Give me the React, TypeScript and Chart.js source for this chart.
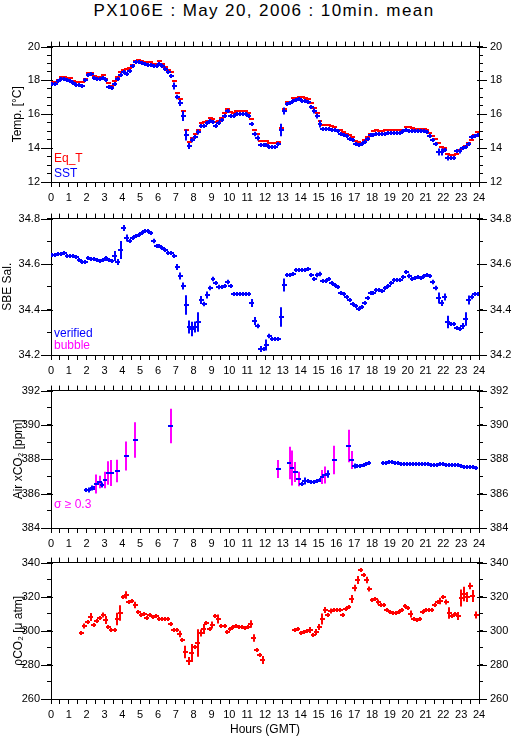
import React, { useEffect, useRef } from "react";
import { Chart, registerables } from "chart.js";
Chart.register(...registerables);

const FONT = "'Liberation Sans', Arial, Helvetica, sans-serif";
const RED = "#ff0000";
const BLUE = "#0000ff";
const MAGENTA = "#ff00ff";

// ---- x axis (hours GMT) ----
const HOUR_TICK_LABELS = ["0","1","2","3","4","5","6","7","8","9","10","11","12","13","14","15","16","17","18","19","20","21","22","23","24"];
const X_TICKS = Array.from({ length: 49 }, (_, i) => i / 2); // half-hour tick marks
const SLOT_HOURS = Array.from({ length: 144 }, (_, k) => (k + 0.5) / 6); // 10-min slot centres
const SLOT_HALF = 1 / 12;

// ---- Panel 1 : temperature ----
const TEMP_TICKS = [12,12.5,13,13.5,14,14.5,15,15.5,16,16.5,17,17.5,18,18.5,19,19.5,20];
const TEMP_LABEL_VALUES = [12,14,16,18,20];
const TEMP_LABELS = ["12","14","16","18","20"];
const EQT = [
  17.88,17.88,18.0,18.23,18.23,18.12,
  18.12,17.96,17.92,17.92,17.9,18.06,
  18.45,18.45,18.25,18.22,18.22,18.3,
  18.1,17.86,17.7,17.94,18.19,18.48,
  18.6,18.68,18.75,18.9,19.17,19.2,
  19.12,19.1,19.1,19.08,18.97,18.95,
  19.15,18.95,18.8,18.6,18.48,17.96,
  17.24,16.9,16.2,15.07,14.37,14.6,
  14.83,15.07,15.5,15.55,15.63,15.77,
  15.73,15.57,15.63,15.77,16.08,16.31,
  16.12,16.08,16.17,16.17,16.17,16.17,
  16.1,15.73,15.07,14.83,14.4,14.4,
  14.4,14.3,14.3,14.28,14.35,15.2,
  16.31,16.7,16.74,16.95,16.99,17.05,
  17.0,16.95,16.93,16.66,16.4,16.1,
  15.6,15.34,15.34,15.34,15.32,15.25,
  15.1,15.08,14.95,14.85,14.78,14.66,
  14.45,14.37,14.33,14.5,14.66,14.85,
  14.99,15.07,15.02,14.99,15.05,15.07,
  15.09,15.09,15.09,15.09,15.03,15.24,
  15.24,15.18,15.13,15.13,15.13,15.13,
  15.1,14.9,14.7,14.52,14.28,14.06,
  14.02,13.63,13.6,13.6,13.63,13.9,
  14.0,14.14,14.33,14.5,14.8,14.95,
];
const SST = [
  17.77,17.78,17.95,18.06,18.06,18.0,
  17.95,17.86,17.75,17.75,17.69,18.0,
  18.33,18.37,18.15,18.06,18.06,18.13,
  18.0,17.63,17.57,17.77,18.06,18.31,
  18.48,18.39,18.58,18.83,19.09,19.09,
  19.03,18.95,18.93,18.93,18.85,18.83,
  18.95,18.87,18.7,18.48,18.25,17.67,
  17.03,16.64,15.92,14.76,14.14,14.47,
  14.68,14.95,15.3,15.3,15.5,15.6,
  15.55,15.3,15.5,15.69,15.88,16.17,
  15.92,15.92,16.02,16.02,16.02,16.02,
  15.88,15.44,14.83,14.6,14.21,14.21,
  14.21,14.08,14.08,14.08,14.27,15.05,
  16.21,16.6,16.66,16.78,16.85,16.89,
  16.78,16.78,16.74,16.45,16.2,15.92,
  15.44,15.15,15.13,15.13,15.1,15.05,
  15.0,14.85,14.76,14.72,14.56,14.47,
  14.23,14.17,14.22,14.37,14.56,14.76,
  14.76,14.82,14.84,14.85,14.85,14.9,
  14.9,14.9,14.9,14.9,14.99,15.05,
  15.03,15.01,14.99,14.99,14.99,14.99,
  14.95,14.72,14.5,14.27,13.79,13.79,
  13.88,13.4,13.4,13.4,13.83,13.83,
  13.98,14.08,14.27,14.66,14.72,14.75,
];
const SST_ERR = [
  .04,.04,.04,.04,.04,.04,
  .04,.04,.04,.04,.04,.08,
  .06,.04,.04,.04,.04,.04,
  .04,.06,.04,.06,.06,.06,
  .06,.06,.06,.06,.06,.04,
  .04,.04,.04,.04,.04,.04,
  .04,.04,.06,.06,.08,.2,
  .14,.17,.3,.32,.17,.14,
  .08,.15,.06,.06,.06,.06,
  .04,.04,.06,.06,.06,.08,
  .04,.04,.04,.04,.04,.04,
  .06,.06,.13,.15,.06,.04,
  .04,.04,.04,.04,.06,.37,
  .2,.08,.04,.04,.04,.04,
  .04,.04,.04,.08,.15,.15,
  .2,.06,.04,.04,.04,.04,
  .04,.04,.06,.04,.06,.06,
  .06,.06,.06,.06,.06,.06,
  .04,.04,.04,.04,.04,.04,
  .04,.04,.04,.04,.06,.06,
  .04,.04,.04,.04,.04,.04,
  .06,.08,.08,.1,.2,.2,
  .1,.15,.06,.06,.1,.15,
  .1,.06,.06,.08,.08,.06,
];

// ---- Panel 2 : salinity ----
const SAL_TICKS = [34.2,34.3,34.4,34.5,34.6,34.7,34.8];
const SAL_LABEL_VALUES = [34.2,34.4,34.6,34.8];
const SAL_LABELS = ["34.2","34.4","34.6","34.8"];
const SAL = [
  34.640,34.640,34.645,34.645,34.648,34.637,
  34.636,34.634,34.630,34.620,34.610,34.610,
  34.627,34.622,34.622,34.616,34.612,34.620,
  34.627,34.620,34.612,34.634,34.610,34.660,
  34.760,34.716,34.703,34.713,34.725,34.728,
  34.738,34.747,34.747,34.738,34.700,34.680,
  34.680,34.670,34.663,34.648,34.648,34.634,
  34.587,34.547,34.504,34.420,34.323,34.316,
  34.324,34.345,34.440,34.424,34.465,34.496,
  34.533,34.518,34.500,34.498,34.504,34.522,
  34.504,34.467,34.467,34.467,34.470,34.470,
  34.467,34.428,34.350,34.326,34.226,34.225,
  34.243,34.282,34.272,34.272,34.272,34.366,
  34.507,34.550,34.554,34.558,34.573,34.573,
  34.572,34.576,34.579,34.550,34.535,34.552,
  34.557,34.525,34.526,34.535,34.515,34.508,
  34.500,34.472,34.467,34.457,34.441,34.424,
  34.417,34.402,34.410,34.428,34.450,34.472,
  34.472,34.486,34.488,34.482,34.496,34.504,
  34.518,34.530,34.530,34.530,34.544,34.564,
  34.547,34.535,34.540,34.543,34.540,34.547,
  34.550,34.547,34.522,34.494,34.450,34.428,
  34.457,34.345,34.337,34.337,34.319,34.313,
  34.327,34.359,34.441,34.453,34.467,34.470,
];
const SAL_ERR = [
  .004,.004,.004,.004,.004,.004,
  .004,.004,.004,.004,.004,.004,
  .006,.004,.004,.004,.004,.004,
  .006,.004,.008,.022,.013,.04,
  .013,.015,.004,.004,.004,.004,
  .004,.004,.004,.004,.01,.004,
  .004,.004,.004,.004,.004,.008,
  .013,.015,.015,.043,.029,.032,
  .024,.043,.018,.01,.015,.01,
  .01,.006,.01,.006,.006,.01,
  .006,.004,.004,.004,.004,.004,
  .004,.018,.018,.01,.013,.008,
  .024,.01,.006,.006,.006,.043,
  .029,.006,.006,.004,.004,.004,
  .004,.004,.004,.008,.008,.01,
  .01,.006,.004,.004,.006,.006,
  .004,.004,.004,.008,.004,.008,
  .008,.004,.006,.008,.008,.008,
  .004,.004,.004,.004,.004,.004,
  .004,.004,.004,.004,.008,.008,
  .01,.004,.004,.004,.004,.004,
  .004,.004,.01,.01,.024,.013,
  .015,.027,.006,.006,.008,.006,
  .013,.03,.02,.01,.006,.006,
];

// ---- Panel 3 : atmospheric xCO2 ----
const XCO2_TICKS = [384,385,386,387,388,389,390,391,392];
const XCO2_LABEL_VALUES = [384,386,388,390,392];
const XCO2_LABELS = ["384","386","388","390","392"];
const XCO2_SIGMA_LIMIT = 0.3;
const XCO2_HOURS = [
  1.98,2.13,2.30,2.41,2.54,2.73,2.88,3.03,3.20,3.38,3.72,4.22,4.73,6.71,
  12.73,13.38,13.53,13.70,13.89,14.07,14.23,14.41,14.60,14.75,14.92,15.07,15.21,15.36,15.53,15.87,
  16.69,16.86,17.03,17.18,17.35,17.53,17.68,17.83,
  18.62,18.79,18.95,19.12,19.29,19.46,19.63,19.79,19.96,20.13,20.30,20.47,20.64,20.80,20.97,21.14,
  21.31,21.48,21.64,21.81,21.98,22.15,22.32,22.49,22.65,22.82,22.99,23.16,23.33,23.50,23.66,23.83,
];
const XCO2 = [
  386.24,386.24,386.34,386.34,386.55,386.67,386.49,386.79,387.19,387.19,387.31,388.19,389.12,389.94,
  387.43,387.80,387.51,387.27,386.84,386.55,386.75,386.71,386.67,386.69,386.75,386.79,386.98,387.08,387.12,387.95,
  388.77,387.95,387.62,387.60,387.62,387.66,387.70,387.76,
  387.76,387.80,387.82,387.82,387.80,387.76,387.74,387.72,387.72,387.74,387.72,387.72,387.72,387.74,387.70,387.70,
  387.68,387.68,387.68,387.70,387.70,387.68,387.66,387.64,387.64,387.64,387.60,387.56,387.56,387.54,387.53,387.51,
];
const XCO2_ERR = [
  0.12,0.15,0.15,0.12,0.55,0.36,0.15,0.48,0.68,0.75,0.66,0.85,1.03,1.0,
  0.53,0.95,1.02,0.58,0.42,0.1,0.2,0.1,0.08,0.06,0.06,0.08,0.41,0.49,0.22,0.83,
  0.95,0.52,0.15,0.1,0.05,0.05,0.05,0.1,
  0.04,0.04,0.04,0.04,0.04,0.04,0.04,0.04,0.04,0.04,0.04,0.04,0.04,0.04,0.04,0.04,
  0.04,0.04,0.04,0.04,0.04,0.04,0.04,0.04,0.04,0.04,0.04,0.04,0.04,0.04,0.04,0.04,
];

// ---- Panel 4 : pCO2 ----
const PCO2_TICKS = [260,270,280,290,300,310,320,330,340];
const PCO2_LABEL_VALUES = [260,280,300,320,340];
const PCO2_LABELS = ["260","280","300","320","340"];
const PCO2_HOURS = [
  1.70,1.87,2.06,2.22,2.39,2.56,2.73,2.92,3.07,3.21,3.38,3.57,3.72,3.87,
  4.04,4.22,4.37,4.54,4.73,4.90,5.05,5.23,5.38,5.55,5.72,5.89,
  6.06,6.22,6.39,6.54,6.71,6.88,7.05,7.21,7.36,7.53,7.72,7.89,
  8.06,8.22,8.39,8.56,8.71,8.90,9.05,9.21,9.38,9.55,9.74,9.89,
  10.06,10.22,10.39,10.54,10.71,10.88,11.05,11.20,11.36,11.53,11.70,11.87,
  13.66,13.85,14.02,14.19,14.36,14.54,14.71,14.88,15.05,15.21,15.38,15.53,15.70,15.87,
  16.04,16.21,16.36,16.52,16.69,16.86,17.03,17.20,17.36,17.53,17.70,17.85,
  18.02,18.17,18.34,18.50,18.67,18.84,19.03,19.18,19.35,19.51,19.68,19.85,
  20.00,20.17,20.34,20.50,20.67,20.84,21.01,21.18,21.35,21.51,21.68,21.83,
  22.00,22.17,22.34,22.50,22.67,22.84,22.99,23.16,23.33,23.50,23.66,23.85,
];
const PCO2 = [
  298.6,302.8,305.1,308.2,303.2,305.5,307.6,309.2,306.3,302.4,300.3,300.3,307.0,310.5,
  320.1,321.1,316.7,317.3,315.3,310.9,309.5,310.1,307.6,309.0,308.2,308.6,
  306.8,306.8,307.2,306.7,303.8,300.3,300.3,298.4,294.5,287.4,282.0,287.0,
  290.7,292.8,298.6,300.9,304.3,300.9,303.2,308.6,307.0,302.8,302.8,299.3,
  300.9,302.4,302.8,302.4,302.2,301.6,302.4,303.8,295.7,288.9,285.8,282.6,
  300.7,301.3,298.6,299.3,299.7,300.3,297.4,299.3,302.2,307.2,312.0,309.3,311.5,312.4,
  312.0,312.0,309.5,313.0,314.0,318.6,325.2,329.8,335.6,332.7,329.8,324.4,
  318.2,318.8,316.9,314.9,314.9,312.4,310.9,310.5,310.5,311.1,312.4,314.4,
  313.4,310.1,307.2,306.3,307.0,311.3,312.4,312.0,312.4,315.3,316.9,317.3,
  320.1,316.7,310.5,308.4,309.9,308.6,319.2,321.7,320.1,326.3,320.7,309.0,
];
const PCO2_ERR = [
  1,1.5,1.2,2.4,1,1,1.2,1.5,2.4,1,0.8,0.8,3.6,4.6,
  1.2,2.2,0.8,1,1.9,1,0.8,1,1,1,1,0.8,
  1,0.8,0.8,0.8,1.2,0.8,0.8,1.9,1.2,3.7,2.3,5.3,
  1,8.1,2.1,2.9,1.2,1,2.1,1,2.6,1.2,1.2,0.8,
  0.8,0.8,0.8,0.8,0.8,0.8,1,2.2,2.2,1.2,1,2.3,
  1,1,0.8,0.8,1,1.7,0.8,1.7,1.7,3.2,1.7,0.8,1.4,1,
  0.8,0.8,0.8,1,0.8,2.4,1.9,2.3,0.8,0.8,1.9,1.5,
  1.2,1.2,1.5,0.8,0.8,1,0.8,0.8,0.8,0.8,0.8,0.8,
  1.2,2,0.8,0.8,1,0.8,0.8,0.8,0.8,1.2,1,1.9,
  1.2,1.5,3.3,0.8,1,2.3,5,4.2,2.9,1.9,3.5,2,
];

// ---------- plugins ----------
const errorBars = {
  id: "errorBars",
  afterDatasetsDraw(chart: any) {
    const { ctx, chartArea: a, scales } = chart;
    const xs = scales.x, ys = scales.y;
    ctx.save();
    ctx.beginPath();
    ctx.rect(a.left, a.top - 1, a.right - a.left, a.bottom - a.top + 2);
    ctx.clip();
    ctx.lineWidth = 2;
    ctx.lineCap = "butt";
    chart.data.datasets.forEach((ds: any) => {
      ds.data.forEach((p: any) => {
        if (p.y == null) return;
        const xl = Math.round(xs.getPixelForValue(p.x - SLOT_HALF)) - 1;
        const xr = Math.round(xs.getPixelForValue(p.x + SLOT_HALF)) + 1;
        const xc = Math.round(xs.getPixelForValue(p.x));
        const yc = Math.round(ys.getPixelForValue(p.y));
        const ePx = p.e > 0 ? ys.getPixelForValue(p.y - p.e) - ys.getPixelForValue(p.y) : 0;
        const half = Math.max(ePx, ds.minHalf);
        if (half > 0) {
          ctx.strokeStyle = ds.sigmaColor && p.e >= ds.sigmaLimit ? ds.sigmaColor : ds.markColor;
          ctx.beginPath();
          ctx.moveTo(xc, yc - half);
          ctx.lineTo(xc, yc + half);
          ctx.stroke();
        }
        ctx.strokeStyle = ds.markColor;
        ctx.beginPath();
        ctx.moveTo(xl, yc);
        ctx.lineTo(xr, yc);
        ctx.stroke();
      });
    });
    ctx.restore();
  },
};

const majorTicks = {
  id: "majorTicks",
  afterDraw(chart: any) {
    const { ctx, chartArea: a, scales } = chart;
    const ys = scales.y;
    ctx.save();
    ctx.strokeStyle = "#000";
    ctx.lineWidth = 1;
    ys.ticks.forEach((t: any) => {
      if (!t.label) return;
      const py = Math.round(ys.getPixelForValue(t.value)) + 0.5;
      ctx.beginPath();
      ctx.moveTo(a.left - 10, py);
      ctx.lineTo(a.left + 2, py);
      ctx.moveTo(a.right - 2, py);
      ctx.lineTo(a.right + 8, py);
      ctx.stroke();
    });
    ctx.restore();
  },
};

const panelText = {
  id: "panelText",
  afterDraw(chart: any, _args: any, opts: any) {
    const { ctx, chartArea: a } = chart;
    const items = (opts && opts.items) || [];
    ctx.save();
    ctx.font = `12px ${FONT}`;
    ctx.textBaseline = "alphabetic";
    ctx.textAlign = "left";
    items.forEach((it: any) => {
      ctx.fillStyle = it.color;
      ctx.fillText(it.text, a.left + 3, a.bottom - it.above);
    });
    ctx.restore();
  },
};

// ---------- panel definitions ----------
function slotPoints(vals: number[], errs: number[] | null) {
  return SLOT_HOURS.map((x, i) => ({ x, y: vals[i], e: errs ? errs[i] : 0 }));
}
function listPoints(hours: number[], vals: number[], errs: number[]) {
  return hours.map((x, i) => ({ x, y: vals[i], e: errs[i] }));
}

type PanelCfg = {
  canvasTop: number;
  canvasHeight: number;
  bottomHeight: number;
  yMin: number;
  yMax: number;
  yTicks: number[];
  yLabelValues: number[];
  yLabels: string[];
  yTitle: string;
  yTitlePad: number;
  xTitle?: string;
  legend: { text: string; color: string; above: number }[];
  datasets: any[];
};

const PANELS: PanelCfg[] = [
  {
    canvasTop: 33, canvasHeight: 171, bottomHeight: 22,
    yMin: 12, yMax: 20, yTicks: TEMP_TICKS, yLabelValues: TEMP_LABEL_VALUES, yLabels: TEMP_LABELS,
    yTitle: "Temp. [°C]", yTitlePad: 10,
    legend: [
      { text: "Eq_T", color: RED, above: 20 },
      { text: "SST", color: BLUE, above: 5 },
    ],
    datasets: [
      { label: "Eq_T", data: slotPoints(EQT, null), markColor: RED, minHalf: 0 },
      { label: "SST", data: slotPoints(SST, SST_ERR), markColor: BLUE, minHalf: 2 },
    ],
  },
  {
    canvasTop: 205, canvasHeight: 172, bottomHeight: 22,
    yMin: 34.2, yMax: 34.8, yTicks: SAL_TICKS, yLabelValues: SAL_LABEL_VALUES, yLabels: SAL_LABELS,
    yTitle: "SBE Sal.", yTitlePad: 0,
    legend: [
      { text: "verified", color: BLUE, above: 18 },
      { text: "bubble", color: MAGENTA, above: 6 },
    ],
    datasets: [
      { label: "SBE Sal.", data: slotPoints(SAL, SAL_ERR), markColor: BLUE, minHalf: 2 },
    ],
  },
  {
    canvasTop: 377, canvasHeight: 173, bottomHeight: 22,
    yMin: 384, yMax: 392, yTicks: XCO2_TICKS, yLabelValues: XCO2_LABEL_VALUES, yLabels: XCO2_LABELS,
    yTitle: "Air xCO₂ [ppm]", yTitlePad: 11,
    legend: [{ text: "σ ≥ 0.3", color: MAGENTA, above: 20 }],
    datasets: [
      {
        label: "Air xCO2", data: listPoints(XCO2_HOURS, XCO2, XCO2_ERR),
        markColor: BLUE, sigmaColor: MAGENTA, sigmaLimit: XCO2_SIGMA_LIMIT, minHalf: 2,
      },
    ],
  },
  {
    canvasTop: 549, canvasHeight: 190, bottomHeight: 40,
    yMin: 260, yMax: 340, yTicks: PCO2_TICKS, yLabelValues: PCO2_LABEL_VALUES, yLabels: PCO2_LABELS,
    yTitle: "ρCO₂ [μ atm]", yTitlePad: 11, xTitle: "Hours (GMT)",
    legend: [],
    datasets: [
      { label: "pCO2", data: listPoints(PCO2_HOURS, PCO2, PCO2_ERR), markColor: RED, minHalf: 2 },
    ],
  },
];

function xAxis(position: "top" | "bottom", withLabels: boolean, height: number, title?: string) {
  return {
    type: "linear",
    position,
    min: 0,
    max: 24,
    afterBuildTicks: (s: any) => {
      s.ticks = X_TICKS.map((v) => ({ value: v }));
    },
    afterFit: (s: any) => {
      s.height = height;
    },
    ticks: {
      autoSkip: false,
      maxRotation: 0,
      minRotation: 0,
      padding: 4,
      color: "#000",
      font: { family: FONT, size: 11 },
      callback: (v: any) => (withLabels && Number.isInteger(v) ? HOUR_TICK_LABELS[v] : ""),
    },
    grid: { drawOnChartArea: false, drawTicks: true, tickLength: 5, color: "#000", lineWidth: 1 },
    border: { display: true, color: "#000", width: 1 },
    title: title
      ? { display: true, text: title, color: "#000", font: { family: FONT, size: 12 }, padding: { top: 0, bottom: 2 } }
      : { display: false },
  };
}

function yAxis(position: "left" | "right", cfg: PanelCfg) {
  const left = position === "left";
  return {
    type: "linear",
    position,
    min: cfg.yMin,
    max: cfg.yMax,
    afterBuildTicks: (s: any) => {
      s.ticks = cfg.yTicks.map((v) => ({ value: v }));
    },
    afterFit: (s: any) => {
      s.width = left ? 51 : 36;
    },
    ticks: {
      autoSkip: false,
      padding: 7,
      color: "#000",
      font: { family: FONT, size: 11 },
      callback: (v: any) => {
        const i = cfg.yLabelValues.findIndex((l) => Math.abs(l - v) < 1e-9);
        return i >= 0 ? cfg.yLabels[i] : "";
      },
    },
    grid: { drawOnChartArea: false, drawTicks: true, tickLength: 4, color: "#000", lineWidth: 1 },
    border: { display: true, color: "#000", width: 1 },
    title: left
      ? { display: true, text: cfg.yTitle, color: "#000", font: { family: FONT, size: 12 }, padding: { top: cfg.yTitlePad, bottom: 0 } }
      : { display: false },
  };
}

function Panel({ cfg }: { cfg: PanelCfg }) {
  const ref = useRef<HTMLCanvasElement | null>(null);
  useEffect(() => {
    if (!ref.current) return;
    const chart = new Chart(ref.current, {
      type: "scatter",
      data: {
        datasets: cfg.datasets.map((d) => ({
          ...d,
          pointRadius: 0,
          pointHoverRadius: 0,
          showLine: false,
        })),
      },
      options: {
        responsive: false,
        animation: false,
        devicePixelRatio: 1,
        layout: { padding: 0 },
        events: [],
        plugins: {
          legend: { display: false },
          tooltip: { enabled: false },
          panelText: { items: cfg.legend },
        } as any,
        scales: {
          x: xAxis("bottom", true, cfg.bottomHeight, cfg.xTitle),
          xTop: xAxis("top", false, 12),
          y: yAxis("left", cfg),
          yRight: yAxis("right", cfg),
        } as any,
      },
      plugins: [errorBars, majorTicks, panelText],
    } as any);
    return () => chart.destroy();
  }, [cfg]);
  return (
    <canvas
      ref={ref}
      width={515}
      height={cfg.canvasHeight}
      style={{ position: "absolute", left: 0, top: cfg.canvasTop, width: 515, height: cfg.canvasHeight }}
    />
  );
}

export default function App() {
  return (
    <div style={{ position: "absolute", left: 0, top: 0, width: 515, height: 739, overflow: "hidden", background: "#fff" }}>
      <div
        style={{
          position: "absolute",
          left: 0,
          top: 1,
          width: 528,
          textAlign: "center",
          fontFamily: FONT,
          fontSize: 17,
          lineHeight: "20px",
          letterSpacing: "1.4px",
          whiteSpace: "nowrap",
          color: "#000",
        }}
      >
        PX106E : May 20, 2006 : 10min. mean
      </div>
      {PANELS.map((p, i) => (
        <Panel key={i} cfg={p} />
      ))}
    </div>
  );
}
